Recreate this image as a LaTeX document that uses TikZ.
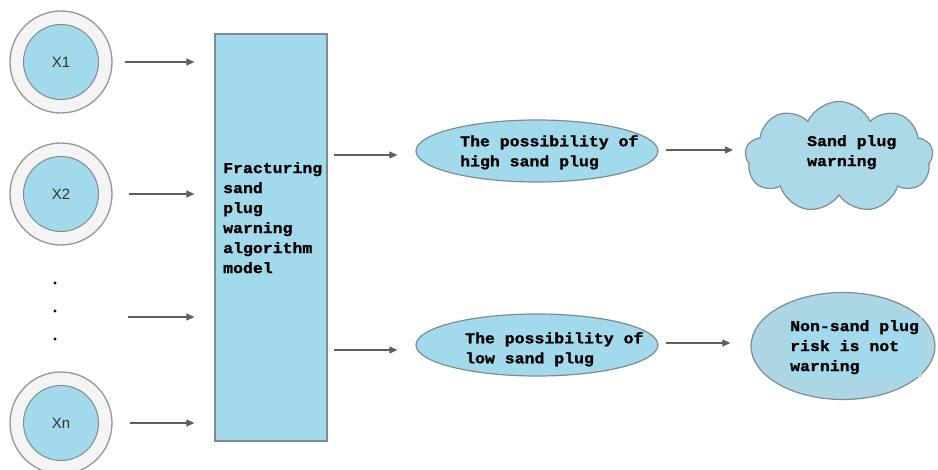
\documentclass[tikz,border=0pt]{standalone}
\usepackage{fontspec}
\setmainfont{Liberation Sans}
\newfontfamily\pixfont[FakeStretch=1.1,FakeBold=1.4]{Liberation Mono Bold}
\usetikzlibrary{shapes.geometric,shapes.symbols,arrows.meta,calc}

\definecolor{boxblue}{RGB}{163,218,235}
\definecolor{cloudblue}{RGB}{172,217,232}
\definecolor{ovalgray}{RGB}{172,214,228}
\definecolor{edgegray}{RGB}{125,140,148}
\definecolor{ringfill}{RGB}{244,244,244}
\definecolor{ringedge}{RGB}{150,150,150}
\definecolor{arrowgray}{RGB}{95,95,95}

\tikzset{
  ring/.style={circle, draw=ringedge, line width=1.3pt, fill=ringfill,
    minimum size=102pt, inner sep=0pt},
  core/.style={circle, draw=edgegray, line width=1pt, fill=boxblue,
    minimum size=75pt, inner sep=0pt, text=black!80,
    font=\fontsize{15}{15}\selectfont},
  modelbox/.style={rectangle, draw=edgegray, line width=1.2pt, fill=boxblue,
    minimum width=112pt, minimum height=407pt, inner sep=0pt},
  oval/.style={ellipse, draw=edgegray, line width=1.2pt, fill=boxblue,
    minimum width=242pt, minimum height=62pt, inner sep=0pt},
  puffs/.style={cloud, cloud puffs=9, cloud puff arc=130, cloud ignores aspect,
    draw=edgegray, line width=1.2pt, fill=cloudblue, minimum width=188pt,
    minimum height=111pt, inner sep=0pt},
  label/.style={anchor=north west, inner sep=0pt, align=left,
    font=\pixfont\fontsize{15}{20}\selectfont},
  arr/.style={draw=arrowgray, line width=1.1pt,
    -{Triangle[length=8pt,width=7pt]}},
}

\begin{document}
\begin{tikzpicture}[x=1pt,y=-1pt]
\useasboundingbox (0,0) rectangle (938,470);

% input variables
\node[ring] (r1) at (61,62) {};
\node[core] (x1) at (61,62) {X1};
\node[ring] (r2) at (61,194) {};
\node[core] (x2) at (61,194) {X2};
\node[ring] (rn) at (61,423) {};
\node[core] (xn) at (61,423) {Xn};

% ellipsis between X2 and Xn
\foreach \yy in {283,311,339} \fill (55,\yy) circle (1.6pt);

% algorithm model
\node[modelbox] (model) at (271,237.5) {};
\node[label] (modeltext) at (223,162) {Fracturing\\sand\\plug\\warning\\algorithm\\model};

% outcome ovals
\node[oval] (high) at (537,151) {};
\node[label] (hightext) at (460,135) {The possibility of\\high sand plug};
\node[oval] (low) at (537,345) {};
\node[label] (lowtext) at (465,332) {The possibility of\\low sand plug};

% results
\node[puffs] (warn) at (839,157) {};
\node[label] (warntext) at (807,135) {Sand plug\\warning};
\node[ellipse, draw=edgegray, line width=1.2pt, fill=ovalgray,
  minimum width=184pt, minimum height=107pt, inner sep=0pt] (safe) at (843,346) {};
\node[label, fill=boxblue, inner sep=3pt] (safetext) at (787,317)
  {Non-sand plug\\risk is not\\warning};

% connectors into the model
\coordinate (midin) at (128,317);
\draw[arr, shorten <=12pt, shorten >=20pt] (r1.east) -- (r1.east -| model.west);
\draw[arr, shorten <=16pt, shorten >=20pt] (r2.east) -- (r2.east -| model.west);
\draw[arr, shorten >=20pt] (midin) -- (midin -| model.west);
\draw[arr, shorten <=17pt, shorten >=20pt] (rn.east) -- (rn.east -| model.west);

% connectors out of the model
\draw[arr, shorten <=6pt, shorten >=18pt] ($(model.east |- high.west)+(0,4)$) -- ($(high.west)+(0,4)$);
\draw[arr, shorten <=6pt, shorten >=18pt] ($(model.east |- low.west)+(0,5)$) -- ($(low.west)+(0,5)$);

% connectors to the results
\draw[arr, shorten <=7pt, shorten >=12pt] ($(high.east)+(0,-1)$) -- ($(high.east -| warn.west)+(0,-1)$);
\draw[arr, shorten <=7pt, shorten >=20pt] ($(low.east)+(0,-2)$) -- ($(low.east -| safe.west)+(0,-2)$);
\end{tikzpicture}
\end{document}
